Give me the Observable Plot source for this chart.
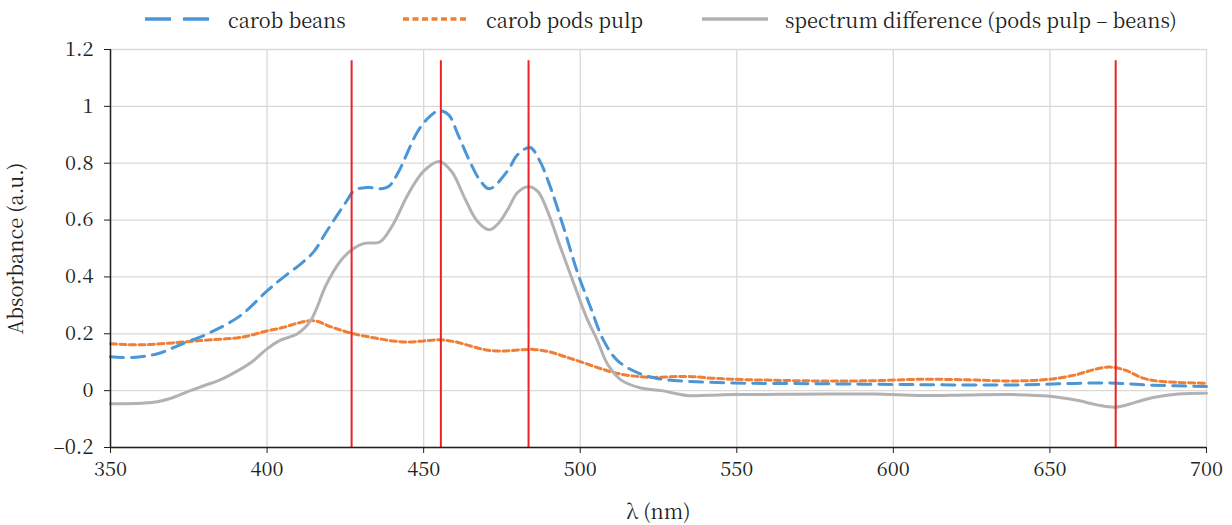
<!DOCTYPE html>
<html>
<head>
<meta charset="utf-8">
<script src="https://cdn.jsdelivr.net/npm/d3@7"></script>
<script src="https://cdn.jsdelivr.net/npm/@observablehq/plot@0.6"></script>
<style>
  body { margin: 0; background: #fff; font-family: "Noto Serif CJK SC", "Liberation Serif", serif; position: relative; }
  #legend { position: absolute; left: 0; top: 0; height: 40px; width: 1232px; font-size: 20px; color: #231f20; z-index: 2; }
  .item { position: absolute; top: -1px; height: 40px; display: flex; align-items: center; }
  .item svg { margin-right: 17px; }
  #chart svg { display: block; }
</style>
</head>
<body>
<div id="legend"></div>
<div id="chart"></div>
<script>
// wavelengths (nm) and absorbances (a.u.)
const beansX = [350,357,365,373,382,391.5,400,406.5,410.7,415,419,425,428,432,436,439,442,448,452,455,458,461,465,468,471,476.8,480,484,487,490.5,494.7,499,503.3,507.5,512,519,525,534,549,579,609,638,653,668,683,700];
const beansY = [0.119,0.117,0.13,0.165,0.205,0.264,0.351,0.41,0.445,0.49,0.56,0.66,0.705,0.715,0.71,0.72,0.77,0.91,0.965,0.985,0.97,0.9,0.8,0.74,0.71,0.773,0.83,0.855,0.81,0.715,0.574,0.42,0.293,0.176,0.105,0.06,0.042,0.033,0.027,0.024,0.021,0.02,0.024,0.027,0.019,0.015];

const pulpX = [350,355,362,370,378.7,385,391.5,400,405,410.7,415,421,427.6,435,440,445,450,455,460,465,470,475,480,485,490,495,500,507,513,522,534,542,549,564,579,594,609,624,638,649,658,664,669,674,680,686,700];
const pulpY = [0.165,0.162,0.162,0.168,0.176,0.181,0.187,0.21,0.222,0.24,0.246,0.222,0.2,0.184,0.175,0.171,0.175,0.179,0.172,0.157,0.143,0.139,0.143,0.145,0.137,0.12,0.102,0.076,0.058,0.047,0.05,0.044,0.04,0.036,0.034,0.035,0.04,0.038,0.034,0.039,0.055,0.074,0.083,0.072,0.043,0.032,0.026];

const diffX = [350,355,360,365,370,375.5,380,385,389,395,400,404,409.7,413.9,419,423.5,427.6,431,436,440,445,450,455,459,463,467,471,474,477,480,483.5,486.5,489.5,493.7,498,502,505.5,508.7,513,519,526,534,541,549,564,579,594,609,624,638,650,659,665,671,677,683,691,700];
const diffY = [-0.046,-0.046,-0.044,-0.039,-0.024,0,0.018,0.038,0.06,0.1,0.147,0.176,0.2,0.246,0.375,0.457,0.5,0.518,0.523,0.58,0.69,0.772,0.806,0.77,0.68,0.598,0.566,0.59,0.64,0.697,0.717,0.7,0.633,0.504,0.375,0.258,0.176,0.094,0.038,0.01,0.0,-0.017,-0.016,-0.014,-0.013,-0.012,-0.012,-0.017,-0.015,-0.014,-0.02,-0.035,-0.05,-0.058,-0.042,-0.024,-0.012,-0.009];

const markerLines = [427, 455.5, 483.5, 671];
const markerTop = 1.16;

const xTicks = [350,400,450,500,550,600,650,700];
const yTicks = [-0.2,0,0.2,0.4,0.6,0.8,1,1.2];

const seriesNames = ["carob beans", "carob pods pulp", "spectrum difference (pods pulp – beans)"];
const seriesColors = ["#4a96d6", "#f07e35", "#b2b2b4"];
const seriesDash = ["13,8", "6,3.5", null];
const legendDash = ["26,12", "6,3.5", null];
const legendLeft = [145, 403, 702];

const toRows = (xs, ys) => xs.map((x, i) => ({x, y: ys[i]}));
const beans = toRows(beansX, beansY);
const pulp = toRows(pulpX, pulpY);
const diff = toRows(diffX, diffY);

const yFmt = d => d < 0 ? "–" + Math.abs(d) : String(d);
const fontStack = "'Noto Serif CJK SC', 'Liberation Serif', serif";

const chart = Plot.plot({
  width: 1232,
  height: 525,
  marginTop: 49,
  marginBottom: 78,
  marginLeft: 110,
  marginRight: 26,
  style: { fontFamily: fontStack, fontSize: "20px", color: "#231f20", background: "#fff" },
  x: { domain: [350, 700] },
  y: { domain: [-0.2, 1.2] },
  marks: [
    Plot.gridX(xTicks, { stroke: "#d9d9d9", strokeOpacity: 1, strokeWidth: 1.3 }),
    Plot.gridY(yTicks, { stroke: "#d9d9d9", strokeOpacity: 1, strokeWidth: 1.3 }),
    Plot.line(pulp, { x: "x", y: "y", stroke: seriesColors[1], strokeWidth: 3, strokeDasharray: seriesDash[1], curve: "catmull-rom" }),
    Plot.line(beans, { x: "x", y: "y", stroke: seriesColors[0], strokeWidth: 3, strokeDasharray: seriesDash[0], curve: "catmull-rom" }),
    Plot.line(diff, { x: "x", y: "y", stroke: seriesColors[2], strokeWidth: 3, curve: "catmull-rom" }),
    Plot.ruleX(markerLines, { y1: -0.2, y2: markerTop, stroke: "#ec2127", strokeWidth: 2 }),
    Plot.ruleY([-0.2], { stroke: "#231f20", strokeWidth: 1.5 }),
    Plot.ruleX([350], { stroke: "#231f20", strokeWidth: 1.5 }),
    Plot.axisX({ ticks: xTicks, tickSize: 6, tickPadding: 8, label: "λ (nm)", labelAnchor: "center", labelOffset: 71, labelArrow: "none", stroke: "#231f20" }),
    Plot.axisY({ ticks: yTicks, tickSize: 6, tickPadding: 11, tickFormat: yFmt, label: "Absorbance (a.u.)", labelAnchor: "center", labelOffset: 102, labelArrow: "none", stroke: "#231f20" })
  ]
});
document.getElementById("chart").appendChild(chart);

const legend = document.getElementById("legend");
seriesNames.forEach((name, i) => {
  const item = document.createElement("div");
  item.className = "item";
  item.style.left = legendLeft[i] + "px";
  const dash = legendDash[i] ? ` stroke-dasharray="${legendDash[i]}"` : "";
  item.innerHTML = `<svg width="66" height="10"><line x1="0" y1="5" x2="66" y2="5" stroke="${seriesColors[i]}" stroke-width="3.5"${dash}/></svg><span>${name}</span>`;
  legend.appendChild(item);
});
</script>
</body>
</html>
